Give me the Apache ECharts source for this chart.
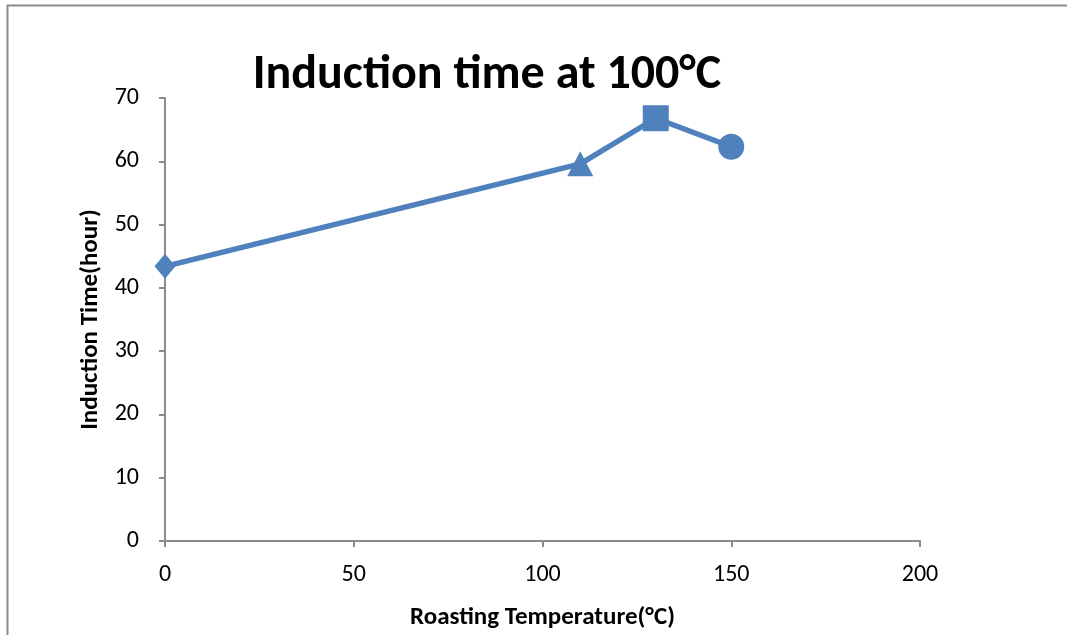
<!DOCTYPE html>
<html>
<head>
<meta charset="utf-8">
<script src="https://cdn.jsdelivr.net/npm/echarts@6/dist/echarts.min.js"></script>
<style>
html,body{margin:0;padding:0;background:#fff;}
#chart{width:1067px;height:635px;}
</style>
</head>
<body>
<div id="chart"></div>
<script>
// Data
var titleText = 'Induction time at 100°C';
var xAxisName = 'Roasting Temperature(°C)';
var yAxisName = 'Induction Time(hour)';
var roastingTemp = [0, 110, 130, 150];
var inductionTime = [43.4, 59.6, 66.8, 62.3];

var markerShapes = ['diamond', 'triangle', 'rect', 'circle'];
var markerSizes = [[21, 25], [26, 25], [26, 26], [26, 26]];

var FONT = 'Carlito, Calibri, Lato, sans-serif';
var chart = echarts.init(document.getElementById('chart'));

var seriesData = roastingTemp.map(function (x, i) {
  return {
    value: [x, inductionTime[i]],
    symbol: markerShapes[i],
    symbolSize: markerSizes[i]
  };
});

chart.setOption({
  animation: false,
  backgroundColor: '#fff',
  graphic: [{
    type: 'rect',
    shape: { x: 7.5, y: 5.5, width: 1080, height: 660 },
    style: { fill: 'none', stroke: '#8c8c8c', lineWidth: 2 },
    silent: true
  }],
  title: {
    text: titleText,
    left: 482,
    textAlign: 'center',
    top: 47,
    textStyle: { fontFamily: FONT, fontWeight: 'bold', fontSize: 48, color: '#000' }
  },
  grid: { left: 165, right: 147, top: 98, bottom: 94, containLabel: false },
  xAxis: {
    type: 'value',
    min: 0, max: 200, interval: 50,
    name: xAxisName,
    nameLocation: 'middle',
    nameGap: 64,
    nameTextStyle: { fontFamily: FONT, fontWeight: 'bold', fontSize: 25, color: '#000' },
    axisLine: { show: true, lineStyle: { color: '#8c8c8c', width: 2 } },
    axisTick: { show: true, length: 6, inside: false, lineStyle: { color: '#8c8c8c', width: 2 } },
    axisLabel: { margin: 22, fontFamily: FONT, fontSize: 24, color: '#000' },
    splitLine: { show: false }
  },
  yAxis: {
    type: 'value',
    min: 0, max: 70, interval: 10,
    name: yAxisName,
    nameLocation: 'middle',
    nameRotate: 90,
    nameGap: 62,
    nameTextStyle: { fontFamily: FONT, fontWeight: 'bold', fontSize: 25, color: '#000' },
    axisLine: { show: true, lineStyle: { color: '#8c8c8c', width: 2 } },
    axisTick: { show: true, length: 6, inside: false, lineStyle: { color: '#8c8c8c', width: 2 } },
    axisLabel: { margin: 26, fontFamily: FONT, fontSize: 24, color: '#000' },
    splitLine: { show: false }
  },
  series: [{
    type: 'line',
    data: seriesData,
    lineStyle: { color: '#4F81BD', width: 5.5 },
    itemStyle: { color: '#4F81BD', borderWidth: 0 },
    emphasis: { disabled: true }
  }]
});
</script>
</body>
</html>
